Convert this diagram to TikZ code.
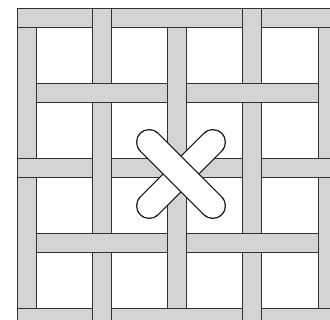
\documentclass[tikz,border=0pt]{standalone}
\definecolor{stripgray}{RGB}{212,212,214}
\definecolor{edgecol}{RGB}{50,50,50}
\definecolor{xedge}{RGB}{25,25,25}
\begin{document}
\begin{tikzpicture}[x=1pt,y=-1pt,
  strip/.style={fill=stripgray,draw=edgecol,line width=0.8pt},
  edgeline/.style={draw=edgecol,line width=0.8pt},
  barout/.style={draw=xedge,line width=26.4pt,line cap=round},
  barin/.style={draw=white,line width=23.8pt,line cap=round}]
\useasboundingbox (0,0) rectangle (330,320);
\begin{scope}
\clip (0,0) rectangle (330,320);
% rows (weft)
\foreach \r in {0,...,4} {
  \path[strip] (17,{8+75*\r}) rectangle (345,{27+75*\r});
}
% columns (warp)
\foreach \c in {0,...,4} {
  \path[strip] ({17+75.25*\c},8) rectangle ({36+75.25*\c},335);
}
% rows passing over columns
\foreach \r in {0,...,4} {
  \foreach \c in {0,...,4} {
    \pgfmathtruncatemacro\oddsum{mod(\r+\c,2)}
    \ifnum\oddsum=0
      \fill[stripgray] ({17+75.25*\c-0.5},{8+75*\r}) rectangle ({36+75.25*\c+0.5},{27+75*\r});
      \draw[edgeline] ({17+75.25*\c-0.5},{8+75*\r}) -- ({36+75.25*\c+0.5},{8+75*\r});
      \draw[edgeline] ({17+75.25*\c-0.5},{27+75*\r}) -- ({36+75.25*\c+0.5},{27+75*\r});
    \fi
  }
}
\draw[edgeline] (17,8) -- (17,330);
\draw[edgeline] (17,8) -- (345,8);
\end{scope}
% the X
\coordinate (sw) at (149.2,205.8);
\coordinate (ne) at (212.8,142.2);
\coordinate (nw) at (149.2,142.2);
\coordinate (se) at (212.8,205.8);
\draw[barout] (sw) -- (ne);
\draw[barin] (sw) -- (ne);
\draw[barout] (nw) -- (se);
\draw[barin] (nw) -- (se);
\end{tikzpicture}
\end{document}
